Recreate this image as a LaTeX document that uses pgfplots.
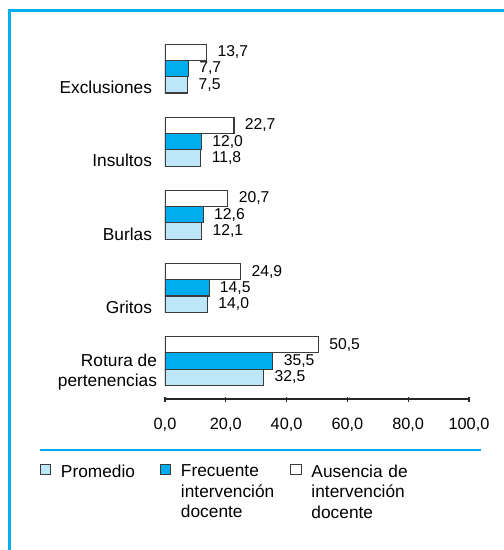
\documentclass[border=0pt]{standalone}
\usepackage{fontspec}
\setmainfont{Liberation Sans}
\usepackage{pgfplots}
\pgfplotsset{compat=1.18}
\definecolor{frameblue}{HTML}{00AEEF}
\definecolor{barblue}{HTML}{00AEEF}
\definecolor{barlight}{HTML}{BEE6F9}
\definecolor{edge}{HTML}{3C3C3C}
\begin{document}
\begin{tikzpicture}
\useasboundingbox (0pt,0pt) rectangle (504pt,550pt);
\draw[frameblue, line width=2.8pt] (9.6pt,0pt) -- (9.6pt,539.6pt) -- (504pt,539.6pt);
\draw[frameblue, line width=2.2pt] (40pt,100pt) -- (481pt,100pt);
\begin{axis}[
  at={(165pt,151pt)}, anchor=south west,
  scale only axis, width=304pt, height=367pt,
  xmin=0, xmax=100, ymin=-0.52, ymax=4.5,
  xbar, bar width=16.3pt,
  axis x line*=bottom, axis y line*=left,
  x axis line style={-, line width=1.6pt, color=black!85},
  y axis line style={draw=none},
  xtick={0,20,40,60,80,100},
  xtick style={line width=1.2pt, color=black!85},
  tick align=center, major tick length=5pt,
  ytick={-0.223,0.777,1.777,2.777,3.777},
  yticklabels={{Rotura de\kern-5pt\\pertenencias\kern-5pt},Gritos,Burlas,Insultos,Exclusiones},
  ytick style={draw=none},
  /pgf/number format/.cd, use comma, fixed, fixed zerofill, precision=1, assume math mode=true,
  /pgfplots/.cd,
  xticklabel style={font=\fontsize{16.3}{19}\selectfont, yshift=-13pt},
  yticklabel style={font=\fontsize{17.3}{20}\selectfont, align=right, anchor=base east, yshift=-9pt, xshift=-7pt},
  nodes near coords,
  every node near coord/.append style={font=\fontsize{15.7}{18}\selectfont, anchor=west, xshift=7pt, color=black},
  legend style={at={(-0.4112,-0.1736)}, anchor=north west, draw=none, fill=none,
    inner sep=0pt, outer sep=0pt,
    legend columns=3, font=\fontsize{17.3}{20.5}\selectfont,
    /tikz/every odd column/.style={column sep=7.5pt},
    /tikz/every even column/.style={column sep=0pt},
    /tikz/column 2/.style={text width=97pt},
    /tikz/column 4/.style={text width=107.5pt},
    /tikz/column 6/.style={text width=120pt},
    cells={anchor=north west, align=left, inner ysep=0pt, inner xsep=5pt}},
  legend image code/.code={\draw[#1, line width=1pt] (0pt,-12.2pt) rectangle (10.5pt,-1.7pt);},
]
\addplot[fill=barlight, draw=edge, line width=1.1pt, bar shift=-16.3pt] coordinates {(32.5,0) (14.0,1) (12.1,2) (11.8,3) (7.5,4)};
\addlegendentry{Promedio}
\addplot[fill=barblue, draw=edge, line width=1.1pt, bar shift=0pt] coordinates {(35.5,0) (14.5,1) (12.6,2) (12.0,3) (7.7,4)};
\addlegendentry{Frecuente\\intervención\\docente}
\addplot[fill=white, draw=edge, line width=1.1pt, bar shift=16.3pt] coordinates {(50.5,0) (24.9,1) (20.7,2) (22.7,3) (13.7,4)};
\addlegendentry{Ausencia de\\intervención\\docente}
\end{axis}
\end{tikzpicture}
\end{document}
